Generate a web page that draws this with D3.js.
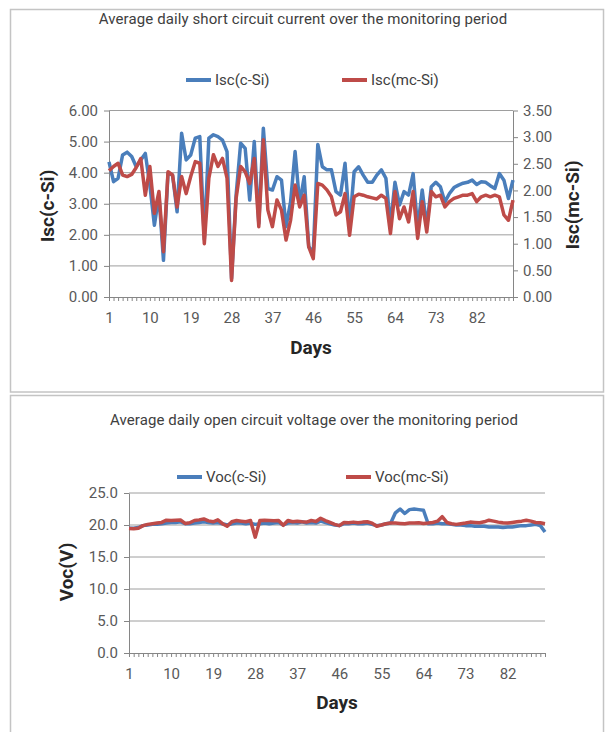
<!DOCTYPE html>
<html>
<head>
<meta charset="utf-8">
<script src="https://cdn.jsdelivr.net/npm/d3@7"></script>
<style>
  body { margin: 0; background: #fff; }
  svg text { font-family: Roboto, "Noto Sans", sans-serif; }
</style>
</head>
<body>
<svg id="chart" width="606" height="732"></svg>
<script>
// categories and tick labels
const days = d3.range(1, 91);
const dayLabels = [1, 10, 19, 28, 37, 46, 55, 64, 73, 82];
const iscLeftTicks = [0, 1, 2, 3, 4, 5, 6];
const iscRightTicks = [0, 0.5, 1, 1.5, 2, 2.5, 3, 3.5];
const vocTicks = [0, 5, 10, 15, 20, 25];

// series values
const iscCSi = [4.35, 3.71, 3.82, 4.57, 4.66, 4.52, 4.19, 4.41, 4.62, 3.60,
  2.31, 3.28, 1.18, 3.98, 3.92, 2.74, 5.27, 4.41, 4.57, 5.11,
  5.16, 1.85, 5.11, 5.22, 5.16, 5.05, 4.68, 0.60, 3.28, 4.95,
  4.78, 3.12, 5.00, 2.37, 5.43, 3.49, 3.44, 3.87, 3.76, 2.26,
  3.06, 4.68, 3.00, 3.87, 1.62, 1.42, 4.91, 4.19, 4.09, 4.09,
  3.39, 3.28, 4.30, 2.30, 4.03, 4.19, 3.92, 3.69, 3.69, 3.92,
  4.09, 3.82, 2.31, 3.69, 2.96, 3.39, 3.28, 3.97, 2.20, 3.44,
  2.26, 3.55, 3.69, 3.55, 3.06, 3.33, 3.52, 3.60, 3.66, 3.69,
  3.76, 3.62, 3.71, 3.69, 3.58, 3.49, 3.97, 3.76, 3.17, 3.76];

const iscMcSi = [2.37, 2.45, 2.51, 2.29, 2.26, 2.30, 2.43, 2.60, 1.91, 2.45,
  1.57, 1.98, 0.85, 2.35, 2.29, 1.69, 2.26, 1.94, 2.26, 2.54,
  2.51, 1.00, 2.23, 2.67, 2.45, 2.60, 2.23, 0.31, 1.85, 2.45,
  2.35, 2.13, 2.60, 1.32, 2.95, 1.63, 1.32, 1.82, 1.63, 1.07,
  1.44, 2.10, 1.69, 1.91, 0.94, 0.72, 2.13, 2.10, 2.01, 1.88,
  1.54, 1.60, 1.94, 1.16, 1.88, 1.93, 1.91, 1.88, 1.86, 1.84,
  1.91, 1.85, 1.19, 1.98, 1.47, 1.69, 1.41, 1.98, 1.10, 1.79,
  1.22, 1.98, 1.88, 1.91, 1.69, 1.79, 1.85, 1.88, 1.91, 1.91,
  1.94, 1.79, 1.88, 1.91, 1.88, 1.91, 1.88, 1.54, 1.44, 1.82];

const vocCSi = [19.5, 19.5, 19.6, 19.9, 20.0, 20.1, 20.1, 20.2, 20.3, 20.4,
  20.4, 20.5, 20.2, 20.2, 20.3, 20.4, 20.5, 20.4, 20.3, 20.4,
  20.2, 20.0, 20.2, 20.3, 20.3, 20.2, 20.3, 20.1, 20.2, 20.3,
  20.2, 20.3, 20.4, 20.0, 20.3, 20.4, 20.3, 20.5, 20.3, 20.4,
  20.3, 20.6, 20.4, 20.2, 20.0, 19.9, 20.2, 20.2, 20.3, 20.2,
  20.2, 20.3, 20.1, 19.9, 20.0, 20.2, 20.3, 21.9, 22.5, 21.8,
  22.4, 22.5, 22.4, 22.3, 20.2, 20.2, 20.3, 20.2, 20.2, 20.1,
  20.0, 20.0, 19.9, 19.9, 19.8, 19.8, 19.8, 19.7, 19.7, 19.7,
  19.6, 19.7, 19.7, 19.8, 19.9, 19.9, 20.0, 20.1, 19.9, 18.9];

const vocMcSi = [19.45, 19.4, 19.5, 19.9, 20.1, 20.2, 20.3, 20.4, 20.75, 20.7,
  20.75, 20.8, 20.25, 20.35, 20.7, 20.8, 20.95, 20.65, 20.5, 20.8,
  20.2, 19.8, 20.5, 20.7, 20.6, 20.5, 20.7, 18.1, 20.7, 20.75,
  20.7, 20.65, 20.7, 19.95, 20.7, 20.5, 20.6, 20.5, 20.45, 20.7,
  20.55, 21.05, 20.7, 20.4, 20.1, 19.9, 20.4, 20.35, 20.45, 20.35,
  20.45, 20.5, 20.3, 19.8, 20.0, 20.2, 20.3, 20.3, 20.25, 20.2,
  20.3, 20.3, 20.35, 20.25, 20.3, 20.4, 20.6, 21.3, 20.4, 20.2,
  20.1, 20.2, 20.3, 20.45, 20.4, 20.35, 20.5, 20.75, 20.6, 20.45,
  20.35, 20.3, 20.4, 20.5, 20.6, 20.75, 20.6, 20.4, 20.35, 20.2];

const blue = '#4a7ebb';
const red = '#be4b48';
const gridColor = '#9e9e9e';
const axisColor = '#868686';

const svg = d3.select('#chart');

// chart frames
svg.append('rect').attr('x', 10.5).attr('y', 9.5).attr('width', 593).attr('height', 382.5)
   .attr('fill', 'none').attr('stroke', '#c4c4c4').attr('stroke-width', 1.5);
svg.append('rect').attr('x', 10.5).attr('y', 395.5).attr('width', 593).attr('height', 345)
   .attr('fill', 'none').attr('stroke', '#c4c4c4').attr('stroke-width', 1.5);

function styleAxis(g) {
  g.selectAll('path, line').attr('stroke', axisColor);
  g.selectAll('text').attr('fill', '#595959').style('font-size', '15px');
}

function xAxis(g, x, y0) {
  g.attr('transform', `translate(0,${y0})`)
   .call(d3.axisBottom(x)
     .tickValues(days)
     .tickSize(4)
     .tickSizeOuter(0)
     .tickPadding(11)
     .tickFormat(d => dayLabels.includes(d) ? d : ''))
   .call(styleAxis);
}

function legend(y, items) {
  items.forEach(it => {
    svg.append('line').attr('x1', it.x).attr('x2', it.x + 25).attr('y1', y).attr('y2', y)
       .attr('stroke', it.color).attr('stroke-width', 4);
    svg.append('text').attr('x', it.x + 29).attr('y', y + 5)
       .attr('fill', '#404040').style('font-size', '15px').text(it.label);
  });
}

function title(x, y, t) {
  svg.append('text').attr('x', x).attr('y', y).attr('text-anchor', 'middle')
     .attr('fill', '#404040').style('font-size', '15px').style('letter-spacing', '0.1px').text(t);
}

function axisTitle(x, y, t, rotate) {
  svg.append('text')
     .attr('transform', `translate(${x},${y})` + (rotate ? ' rotate(-90)' : ''))
     .attr('text-anchor', 'middle').attr('dy', rotate ? '0.35em' : 0)
     .attr('fill', '#262626').style('font-size', '19px').style('font-weight', 'bold')
     .text(t);
}

// ---------- top chart: short circuit current ----------
const x1 = d3.scalePoint().domain(days).range([109, 513]);
const yL = d3.scaleLinear().domain([0, 6]).range([297, 110.5]);
const yR = d3.scaleLinear().domain([0, 3.5]).range([297, 110.5]);

title(303, 24, 'Average daily short circuit current over the monitoring period');
legend(80, [
  { x: 186, color: blue, label: 'Isc(c-Si)' },
  { x: 342, color: red, label: 'Isc(mc-Si)' }
]);

svg.append('g').selectAll('line')
   .data(iscLeftTicks.filter(d => d > 0))
   .enter().append('line')
   .attr('x1', 109).attr('x2', 513)
   .attr('y1', d => yL(d)).attr('y2', d => yL(d))
   .attr('stroke', gridColor);

svg.append('g').attr('transform', 'translate(109,0)')
   .call(d3.axisLeft(yL).tickValues(iscLeftTicks).tickSize(5).tickSizeOuter(0)
     .tickPadding(6).tickFormat(d3.format('.2f')))
   .call(styleAxis);

svg.append('g').attr('transform', 'translate(513,0)')
   .call(d3.axisRight(yR).tickValues(iscRightTicks).tickSize(5).tickSizeOuter(0)
     .tickPadding(5).tickFormat(d3.format('.2f')))
   .call(styleAxis);

svg.append('g').call(xAxis, x1, 297);

svg.append('path').datum(iscCSi)
   .attr('fill', 'none').attr('stroke', blue).attr('stroke-width', 3.5)
   .attr('stroke-linejoin', 'round')
   .attr('d', d3.line().x((d, i) => x1(days[i])).y(d => yL(d)));

svg.append('path').datum(iscMcSi)
   .attr('fill', 'none').attr('stroke', red).attr('stroke-width', 3.5)
   .attr('stroke-linejoin', 'round')
   .attr('d', d3.line().x((d, i) => x1(days[i])).y(d => yR(d)));

axisTitle(311, 354, 'Days', false);
axisTitle(47, 206, 'Isc(c-Si)', true);
axisTitle(572, 205, 'Isc(mc-Si)', true);

// ---------- bottom chart: open circuit voltage ----------
const x2 = d3.scalePoint().domain(days).range([129, 545]);
const yV = d3.scaleLinear().domain([0, 25]).range([653, 493]);

title(314, 425, 'Average daily open circuit voltage over the monitoring period');
legend(477, [
  { x: 177, color: blue, label: 'Voc(c-Si)' },
  { x: 346, color: red, label: 'Voc(mc-Si)' }
]);

svg.append('g').selectAll('line')
   .data(vocTicks.filter(d => d > 0))
   .enter().append('line')
   .attr('x1', 129).attr('x2', 545)
   .attr('y1', d => yV(d)).attr('y2', d => yV(d))
   .attr('stroke', gridColor);

svg.append('g').attr('transform', 'translate(129,0)')
   .call(d3.axisLeft(yV).tickValues(vocTicks).tickSize(5).tickSizeOuter(0)
     .tickPadding(6).tickFormat(d3.format('.1f')))
   .call(styleAxis);

svg.append('g').call(xAxis, x2, 653);

svg.append('path').datum(vocCSi)
   .attr('fill', 'none').attr('stroke', blue).attr('stroke-width', 3.5)
   .attr('stroke-linejoin', 'round')
   .attr('d', d3.line().x((d, i) => x2(days[i])).y(d => yV(d)));

svg.append('path').datum(vocMcSi)
   .attr('fill', 'none').attr('stroke', red).attr('stroke-width', 3.5)
   .attr('stroke-linejoin', 'round')
   .attr('d', d3.line().x((d, i) => x2(days[i])).y(d => yV(d)));

axisTitle(337, 709, 'Days', false);
axisTitle(66, 572, 'Voc(V)', true);
</script>
</body>
</html>
